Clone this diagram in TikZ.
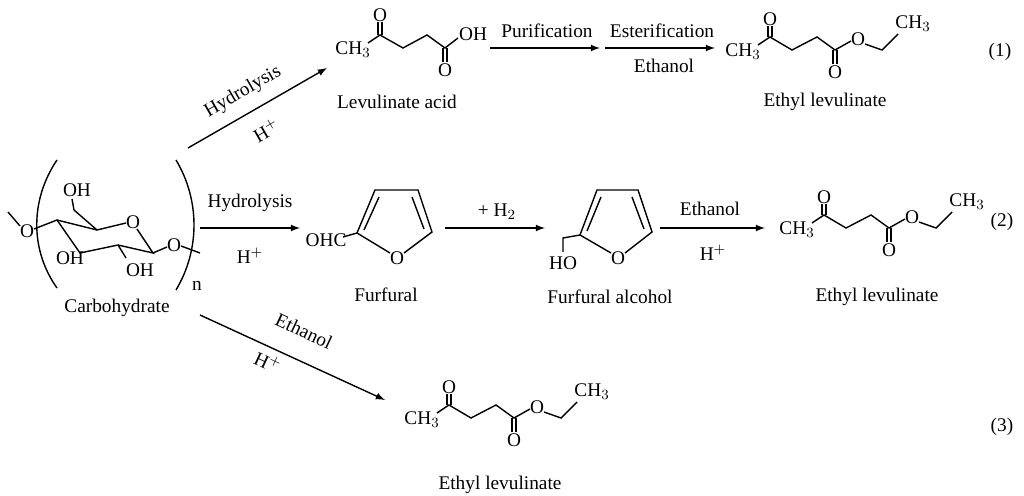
\documentclass[tikz,border=0pt]{standalone}
\usepackage{fontspec}
\setmainfont{Liberation Serif}
\begin{document}
\begin{tikzpicture}[x=0.02cm,y=-0.02cm,
  bond/.style={line width=0.8pt},
  atom/.style={inner sep=0pt,font=\fontsize{11}{13}\selectfont},
  lbl/.style={inner sep=1pt,font=\fontsize{11}{13}\selectfont},
  rxn/.style={line width=0.8pt,-latex}]
\useasboundingbox (0,0) rectangle (1024,496);
\newcommand\etlev[2]{%
 \begin{scope}[shift={#1}]
  \node[atom] (#2m) at (0,0) {CH$_3$};
  \draw[bond] (15,-7)--(27,-15)--(49,-2)--(74,-15)--(92,-2)--(108,-11);
  \draw[bond] (25,-15)--(25,-26) (29,-15)--(29,-26);
  \node[atom] (#2o1) at (27,-33) {O};
  \draw[bond] (90,-2)--(90,12) (94,-2)--(94,12);
  \node[atom] (#2o2) at (92,20) {O};
  \node[atom] (#2o3) at (115,-13) {O};
  \draw[bond] (122,-8)--(139,-2)--(155,-18);
  \node[atom] (#2e) at (170,-28) {CH$_3$};
 \end{scope}}
% carbohydrate
\draw[bond] (8,212)--(20,226);
\node[atom] (og) at (27,231) {O};
\draw[bond] (34,229)--(57,220)--(97,230)--(126,223);
\node[atom] (or) at (133,222) {O};
\draw[bond] (137,229)--(153,253)--(118,245)--(80,253)--(57,220);
\draw[bond] (97,230)--(74,210)--(72,199);
\node[atom] (oh6) at (77,190) {OH};
\node[atom] (oh3) at (70,258) {OH};
\draw[bond] (118,245)--(126,258);
\node[atom] (oh2) at (140,270) {OH};
\draw[bond] (153,253)--(167,247);
\node[atom] (o1) at (174,245) {O};
\draw[bond] (181,246)--(200,253);
\draw[bond] (57,160) .. controls (30,200) and (30,250) .. (57,288);
\draw[bond] (176,160) .. controls (200,200) and (200,250) .. (176,290);
\node[lbl] (nn) at (197,286) {n};
\node[lbl] (carb) at (117,308) {Carbohydrate};
% route 1
\coordinate (a1s) at (188,148); \coordinate (a1e) at (327,68);
\draw[rxn] (a1s)--(a1e);
\node[lbl,rotate=30] (h1) at (243,92) {Hydrolysis};
\node[lbl,rotate=30] (hp1) at (266,130) {H$^+$};
% levulinic acid
\begin{scope}[shift={(353,50)}]
  \node[atom] (lam) at (0,0) {CH$_3$};
  \draw[bond] (15,-7)--(27,-15)--(50,-2)--(74,-15)--(92,-2)--(105,-12);
  \draw[bond] (25,-15)--(25,-28) (29,-15)--(29,-28);
  \node[atom] (lao) at (27,-35) {O};
  \draw[bond] (90,-2)--(90,12) (94,-2)--(94,12);
  \node[atom] (lao2) at (92,20) {O};
  \node[atom] (laoh) at (120,-16) {OH};
\end{scope}
\node[lbl] (lal) at (397,102) {Levulinate acid};
\coordinate (p1) at (490,48); \coordinate (p2) at (600,48);
\coordinate (p3) at (605,48); \coordinate (p4) at (715,48);
\draw[rxn] (p1)--(p2); \draw[rxn] (p3)--(p4);
\node[lbl] (pur) at (547,31) {Purification};
\node[lbl] (est) at (662,31) {Esterification};
\node[lbl] (eth1) at (664,66) {Ethanol};
\etlev{(743,52)}{ea}
\node[lbl] (el1) at (825,102) {Ethyl levulinate};
\node[lbl] (n1) at (1000,52) {(1)};
% route 2
\coordinate (a2s) at (200,228); \coordinate (a2e) at (300,228);
\draw[rxn] (a2s)--(a2e);
\node[lbl] (h2) at (250,203) {Hydrolysis};
\node[lbl] (hp2) at (250,256) {H$^+$};
% furfural
\node[atom] (ohc) at (326,240) {OHC};
\draw[bond] (343,237)--(357,233)--(375,190)--(418,190)--(432,232)--(404,253);
\draw[bond] (364,230)--(379,197) (412,197)--(424,229);
\draw[bond] (357,233)--(390,253);
\node[atom] (fo) at (397,258) {O};
\node[lbl] (ffl) at (386,295) {Furfural};
\coordinate (a3s) at (445,228); \coordinate (a3e) at (545,228);
\draw[rxn] (a3s)--(a3e);
\node[lbl] (h2l) at (497,212) {+ H$_2$};
% furfuryl alcohol
\draw[bond] (563,252)--(563,238)--(580,235)--(597,190)--(638,190)--(652,232)--(625,253);
\draw[bond] (587,231)--(601,197) (632,197)--(644,229);
\draw[bond] (580,235)--(611,253);
\node[atom] (fao) at (618,258) {O};
\node[atom] (faoh) at (563,263) {HO};
\node[lbl] (fal) at (610,297) {Furfural alcohol};
\coordinate (a4s) at (660,228); \coordinate (a4e) at (765,228);
\draw[rxn] (a4s)--(a4e);
\node[lbl] (eth2) at (710,209) {Ethanol};
\node[lbl] (hp4) at (713,253) {H$^+$};
\etlev{(797,230)}{eb}
\node[lbl] (el2) at (877,297) {Ethyl levulinate};
\node[lbl] (n2) at (1002,222) {(2)};
% route 3
\coordinate (a5s) at (200,315); \coordinate (a5e) at (385,400);
\draw[rxn] (a5s)--(a5e);
\node[lbl,rotate=-25] (eth3) at (304,331) {Ethanol};
\node[lbl,rotate=-25] (hp5) at (268,362) {H$^+$};
\etlev{(422,420)}{ec}
\node[lbl] (el3) at (500,485) {Ethyl levulinate};
\node[lbl] (n3) at (1002,427) {(3)};
\end{tikzpicture}
\end{document}
